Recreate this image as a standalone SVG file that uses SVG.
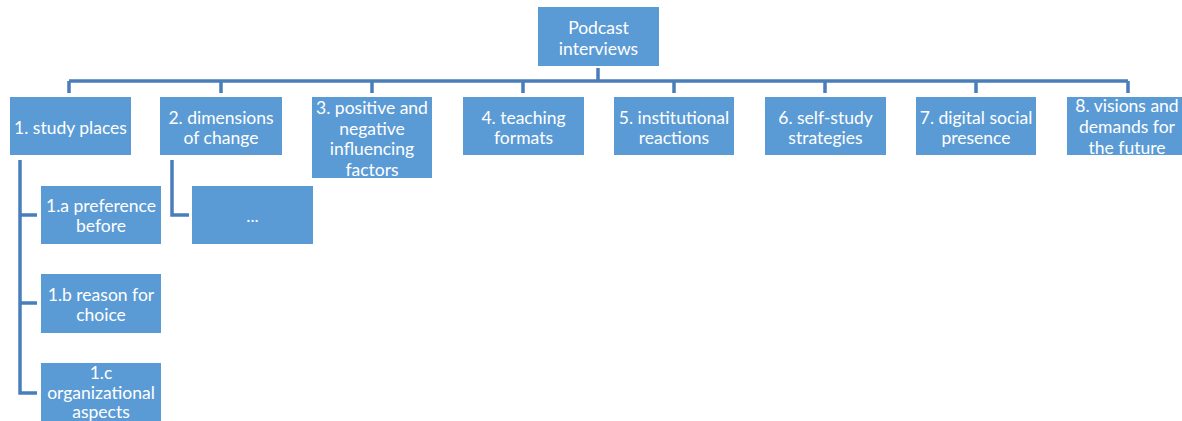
<svg xmlns="http://www.w3.org/2000/svg" width="1182" height="421" viewBox="0 0 1182 421">
<style>
.box{fill:#5b9bd5}
.t{font-family:Lato,"Open Sans",sans-serif;font-size:17.5px;fill:#ffffff;text-anchor:middle;dominant-baseline:central}
.c{fill:none;stroke:#4a7ebb;stroke-width:3.5}
</style>
<rect width="1182" height="421" fill="#ffffff"/>
<g id="connectors">
<path class="c" d="M598 68V81M69 81H1128M69 81V93M221 81V93M372 81V93M523 81V93M674 81V93M825 81V93M976 81V93M1128 81V93"/>
<path class="c" d="M20 160V393H37M20 215H37M20 303H37"/>
<path class="c" d="M172 160V215H189"/>
</g>
<g id="root"><rect class="box" x="538" y="7" width="121" height="59"/><text class="t" x="598.5" y="27">Podcast</text><text class="t" x="598.5" y="48">interviews</text></g>
<g id="n1"><rect class="box" x="10" y="97" width="121" height="58"/><text class="t" x="70.5" y="127">1. study places</text></g>
<g id="n2"><rect class="box" x="160" y="97" width="122" height="58"/><text class="t" x="221" y="117">2. dimensions</text><text class="t" x="221" y="137">of change</text></g>
<g id="n3"><rect class="box" x="312" y="97" width="120" height="81"/><text class="t" x="372" y="107">3. positive and</text><text class="t" x="372" y="128">negative</text><text class="t" x="372" y="148">influencing</text><text class="t" x="372" y="169">factors</text></g>
<g id="n4"><rect class="box" x="463" y="97" width="121" height="58"/><text class="t" x="523.5" y="117">4. teaching</text><text class="t" x="523.5" y="137">formats</text></g>
<g id="n5"><rect class="box" x="614" y="97" width="120" height="58"/><text class="t" x="674" y="117">5. institutional</text><text class="t" x="674" y="137">reactions</text></g>
<g id="n6"><rect class="box" x="765" y="97" width="121" height="58"/><text class="t" x="825.5" y="117">6. self-study</text><text class="t" x="825.5" y="137">strategies</text></g>
<g id="n7"><rect class="box" x="916" y="97" width="120" height="58"/><text class="t" x="976" y="117">7. digital social</text><text class="t" x="976" y="137">presence</text></g>
<g id="n8"><rect class="box" x="1067" y="97" width="121" height="58"/><text class="t" x="1127" y="105">8. visions and</text><text class="t" x="1127" y="126">demands for</text><text class="t" x="1127" y="147">the future</text></g>
<g id="n1a"><rect class="box" x="41" y="186" width="120" height="58"/><text class="t" x="101" y="205">1.a preference</text><text class="t" x="101" y="225">before</text></g>
<g id="n1b"><rect class="box" x="41" y="274" width="120" height="59"/><text class="t" x="101" y="294">1.b reason for</text><text class="t" x="101" y="314">choice</text></g>
<g id="n1c"><rect class="box" x="41" y="363" width="120" height="70"/><text class="t" x="101" y="372">1.c</text><text class="t" x="101" y="392">organizational</text><text class="t" x="101" y="411">aspects</text></g>
<g id="n2a"><rect class="box" x="192" y="186" width="121" height="58"/><text class="t" x="252.5" y="215">...</text></g>
</svg>
